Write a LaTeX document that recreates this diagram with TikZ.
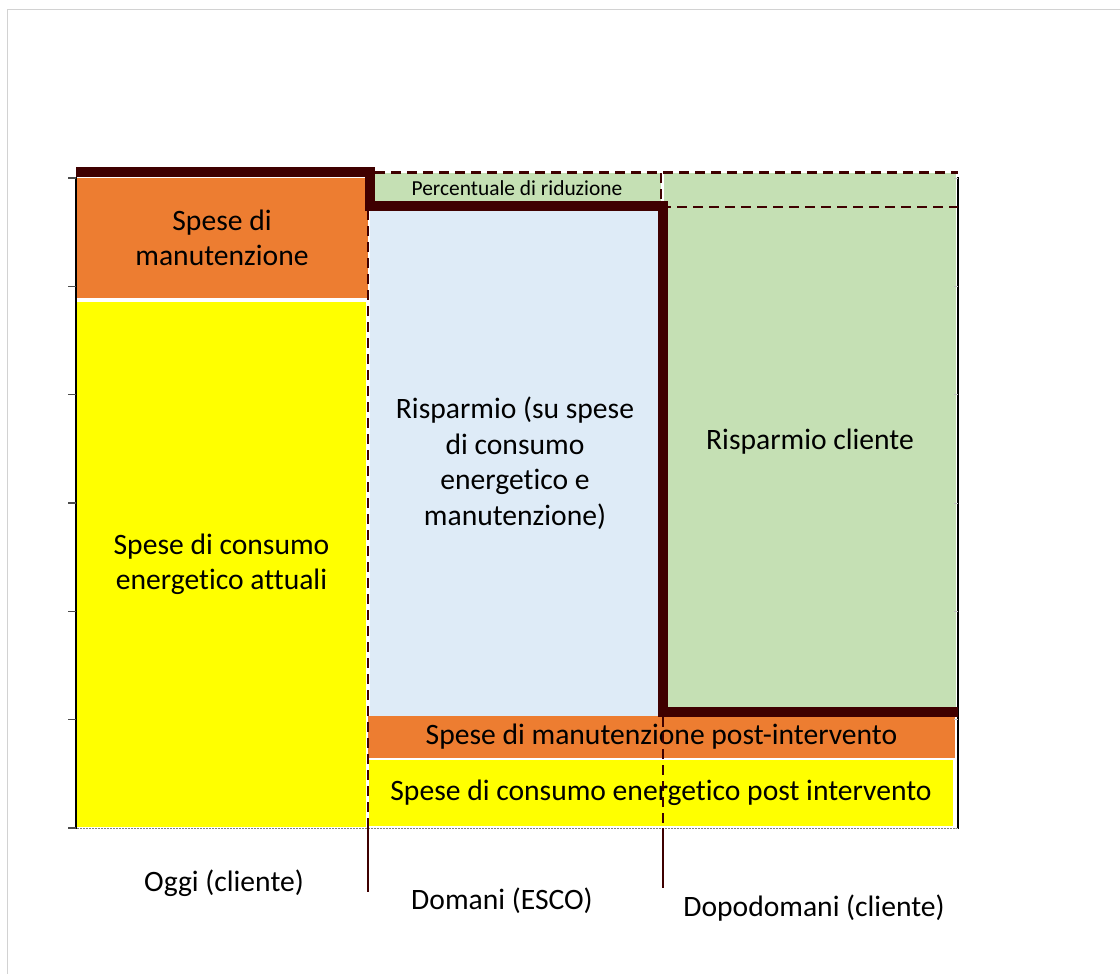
\documentclass[tikz,border=0pt]{standalone}
\usepackage{fontspec}
\setmainfont{Carlito}[Ligatures=NoCommon]
\definecolor{spesaorange}{HTML}{ED7D31}
\definecolor{spesayellow}{HTML}{FFFF00}
\definecolor{risparmioblu}{HTML}{DEEBF7}
\definecolor{risparmioverde}{HTML}{C5E0B4}
\definecolor{soglia}{HTML}{3F0000}
\tikzset{
  basic/.style = {rectangle, inner sep=0pt, align=center},
  bar/.style = {basic, font=\fontsize{29.6}{35.5}\selectfont},
  small/.style = {basic, font=\fontsize{21.4}{25}\selectfont},
  caption/.style = {basic, font=\fontsize{29.6}{35}\selectfont},
  dashline/.style = {soglia, line width=2.8pt, dash pattern=on 10pt off 6pt},
}

\begin{document}
\begin{tikzpicture}[
  x = 1pt,
  y = -1pt,
 ]

 \useasboundingbox (0,0) rectangle (1120,974);
 \draw[gray!35, line width=1pt] (7,974) -- (7,10) -- (1120,10);

 % Oggi
 \node[bar, fill=spesaorange, minimum width=292pt, minimum height=120pt] (manOggi) at (222,238) {Spese di\\manutenzione};
 \node[bar, fill=spesayellow, minimum width=289pt, minimum height=525pt] (consOggi) at (221.5,564.5) {Spese di consumo\\energetico attuali};

 % Domani
 \node[bar, fill=risparmioblu, minimum width=290pt, minimum height=506pt] (rispEsco) at (515,463) {Risparmio (su spese\\di consumo\\energetico e\\manutenzione)};
 \node[small, fill=risparmioverde, minimum width=288pt, minimum height=31pt] (perc) at (517,188) {Percentuale di riduzione};

 % Dopodomani
 \node[bar, fill=risparmioverde, minimum width=292pt, minimum height=537pt] (rispCliente) at (810,441.5) {Risparmio cliente};

 % post intervento
 \node[bar, fill=spesaorange, minimum width=587pt, minimum height=42pt] (manPost) at (661.5,737) {Spese di manutenzione post-intervento};
 \node[bar, fill=spesayellow, minimum width=584pt, minimum height=66pt] (consPost) at (661,793) {Spese di consumo energetico post intervento};

 % assi
 \draw[black, line width=2pt] (76,177) -- (76,829);
 \draw[black, line width=2pt] (958,177) -- (958,829);
 \foreach \y in {178,286.3,394.7,503,611.3,719.7,828}
  {\draw[black!70, line width=1.2pt] (68,\y) -- (76,\y);
   \draw[black!25, line width=0.8pt] (954,\y) -- (958,\y);}
 \draw[gray, line width=1pt, dash pattern=on 2pt off 1pt] (77,828.5) -- (957,828.5);

 % percentuale
 \draw[dashline] (375,172.5) -- (958,172.5);
 \draw[dashline] (661,173) -- (661,206);
 \draw[dashline] (661,207) -- (958,207);

 % separatori
 \draw[dashline] (368,210) -- (368,828);
 \draw[soglia, line width=1.2pt] (368,828) -- (368,892);
 \draw[dashline] (663,717) -- (663,828);
 \draw[soglia, line width=1.2pt] (663,828) -- (663,888);

 \draw[soglia, line width=10pt, line join=miter] (76,172) -- (370,172) -- (370,206) -- (663,206) -- (663,712) -- (958,712);

 \node[caption] (oggi) at (224,883) {Oggi (cliente)};
 \node[caption] (domani) at (502,901) {Domani (ESCO)};
 \node[caption] (dopodomani) at (814,908) {Dopodomani (cliente)};

\end{tikzpicture}
\end{document}
